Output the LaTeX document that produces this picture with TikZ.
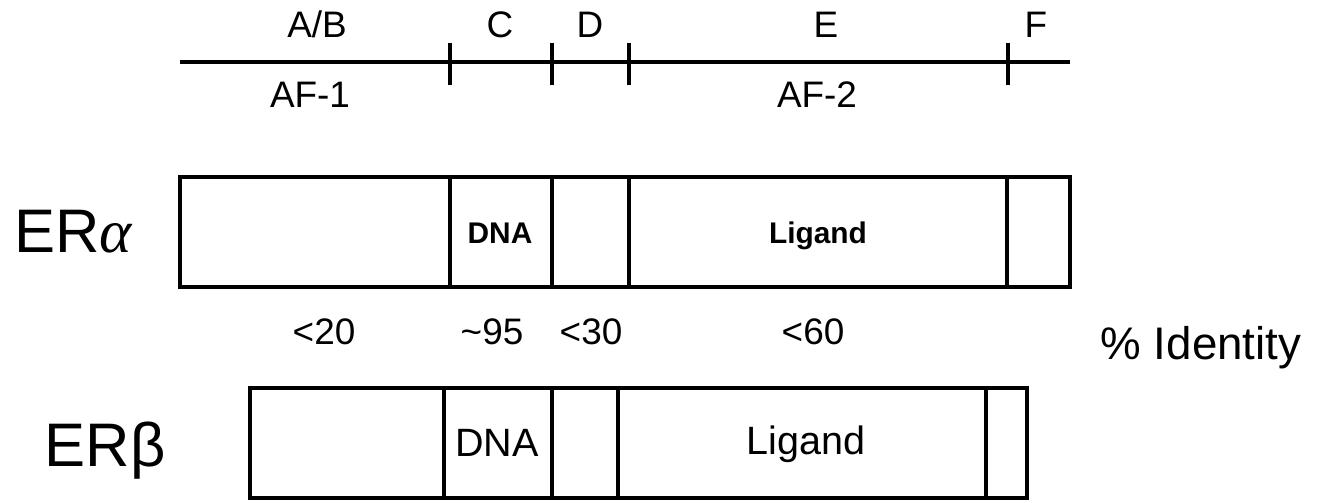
\documentclass[tikz,border=0pt]{standalone}
\usepackage{fontspec}
\setmainfont{Liberation Sans}
\newfontfamily\greekserif{Liberation Serif}

\begin{document}
\begin{tikzpicture}[x=0.02cm, y=-0.02cm,
  thickline/.style={line width=2.6pt},
  domlabel/.style={anchor=base, inner sep=0pt, font=\fontsize{21}{25}\selectfont},
  bigname/.style={anchor=base, inner sep=0pt, font=\fontsize{35}{40}\selectfont},
  boldcell/.style={anchor=base, inner sep=0pt, font=\bfseries\fontsize{17}{20}\selectfont},
  plaincell/.style={anchor=base, inner sep=0pt, font=\fontsize{22.5}{26}\selectfont}]

\useasboundingbox (0,0) rectangle (1320,503);

% Domain line
\coordinate (lstart) at (180,62);
\coordinate (lend)   at (1070,62);
\draw [thickline] (lstart) -- (lend);
\foreach \x in {450,552,629,1008}
  \draw [thickline] (\x,43) -- (\x,85);

\node [domlabel] (ab)  at (317,38)  {A/B};
\node [domlabel] (c)   at (500,38)  {C};
\node [domlabel] (d)   at (590,38)  {D};
\node [domlabel] (e)   at (826,38)  {E};
\node [domlabel] (f)   at (1036,38) {F};
\node [domlabel] (af1) at (310,108) {AF-1};
\node [domlabel] (af2) at (817,108) {AF-2};

% ER alpha
\node [bigname] (eralpha) at (73,253) {ER{\greekserif\itshape α}};
\draw [thickline] (180,177) rectangle (1070,287);
\foreach \x in {450,552,629,1007}
  \draw [thickline] (\x,177) -- (\x,287);
\node [boldcell] (dnaa) at (500,244) {DNA};
\node [boldcell] (liga) at (818,244) {Ligand};

% Identity row
\node [domlabel] (p1) at (324,345) {<20};
\node [domlabel] (p2) at (492,345) {\textasciitilde 95};
\node [domlabel] (p3) at (591,345) {<30};
\node [domlabel] (p4) at (813,345) {<60};
\node [anchor=base, inner sep=0pt, font=\fontsize{26}{30}\selectfont] (ident) at (1201,360) {\% Identity};

% ER beta
\node [bigname] (erbeta) at (105,467) {ERβ};
\draw [thickline] (250,388) rectangle (1027,498);
\foreach \x in {444,552,618,986}
  \draw [thickline] (\x,388) -- (\x,498);
\node [plaincell] (dnab) at (497,457) {DNA};
\node [plaincell] (ligb) at (806,455) {Ligand};

\end{tikzpicture}
\end{document}
